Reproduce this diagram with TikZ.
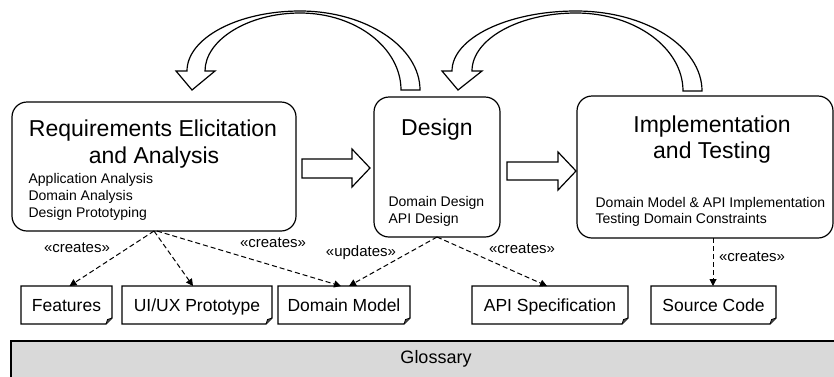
\documentclass[tikz,border=0pt]{standalone}
\usepackage{fontspec}
\setmainfont{Liberation Sans}
\usetikzlibrary{arrows.meta,calc}

\tikzset{
  stage/.style={draw, rounded corners=15pt, inner sep=0pt, outer sep=0pt},
  titletext/.style={font=\fontsize{23}{27}\selectfont, anchor=base, inner sep=0pt},
  subtext/.style={font=\fontsize{14}{17}\selectfont, anchor=base west, inner sep=0pt},
  reltext/.style={font=\fontsize{15}{18}\selectfont, anchor=base, inner sep=0pt},
  arttext/.style={font=\fontsize{17.5}{20}\selectfont, anchor=base, inner sep=0pt},
  artbox/.style={inner sep=0pt, outer sep=0pt},
  blockarrow/.style={draw, line width=1.2pt, fill=white, line join=miter},
  dep/.style={line width=1pt, dash pattern=on 5pt off 3pt,
              -{Triangle[length=7pt,width=7pt]}},
}

% note-shaped artefact box with folded lower right corner
\newcommand{\artefact}[6]{%
  \node[artbox, minimum width=#4-#2, minimum height=#5-#3]
    (#1) at ({(#2+#4)/2},{(#3+#5)/2}) {};
  \draw[line width=1.2pt] (#1.north west) -- (#1.north east)
    -- ($(#1.south east)+(0,-6)$) -- ($(#1.south east)+(-6,0)$)
    -- (#1.south west) -- cycle;
  \draw[line width=0.8pt, fill=black!70] ($(#1.south east)+(0,-6)$)
    -- ($(#1.south east)+(-4.5,-4.5)$) -- ($(#1.south east)+(-6,0)$);
  \node[arttext] (#1-label) at ({(#2+#4)/2},311) {#6};
}

\begin{document}
\begin{tikzpicture}[x=1pt, y=-1pt, line width=1.2pt]
\useasboundingbox (0,0) rectangle (834,376);

% glossary band along the bottom
\draw[fill=black!15, line width=1.2pt] (11,341) -- (840,341) -- (840,382) -- (11,382) -- cycle;
\node[font=\fontsize{18}{21}\selectfont, anchor=base, inner sep=0pt] (gloss) at (436,363.5) {Glossary};

% process stages
\node[stage, minimum width=284pt, minimum height=129pt] (req) at (154,166.5) {};
\node[stage, minimum width=126pt, minimum height=140pt] (des) at (437,167) {};
\node[stage, minimum width=256pt, minimum height=142pt] (impl) at (705,167) {};

\node[titletext] (req-t1) at (153,136) {Requirements Elicitation};
\node[titletext] (req-t2) at (154,163) {and Analysis};
\node[subtext] (req-s1) at (28,183) {Application Analysis};
\node[subtext] (req-s2) at (28,200) {Domain Analysis};
\node[subtext] (req-s3) at (28,217) {Design Prototyping};

\node[titletext] (des-t1) at (437,135) {Design};
\node[subtext] (des-s1) at (388,206) {Domain Design};
\node[subtext] (des-s2) at (388,223) {API Design};

\node[titletext] (impl-t1) at (712,132) {Implementation};
\node[titletext] (impl-t2) at (712,158) {and Testing};
\node[subtext] (impl-s1) at (595,207) {Domain Model \& API Implementation};
\node[subtext] (impl-s2) at (595,223) {Testing Domain Constraints};

% forward block arrows between stages
\draw[blockarrow] (302,159) -- (352,159) -- (352,149) -- (370,168)
  -- (352,187) -- (352,178) -- (302,178) -- cycle;
\draw[blockarrow] (507,162) -- (558,162) -- (558,152) -- (576,171)
  -- (558,190) -- (558,180) -- (507,180) -- cycle;

% feedback arcs
\draw[blockarrow] (420,90) .. controls (420,47) and (366,11) .. (300,11)
  .. controls (238,11) and (187,38) .. (187,71) -- (176,71) -- (192,90)
  -- (215,71) -- (205,71) .. controls (205,40) and (248,13) .. (300,13)
  .. controls (356,13) and (401,48) .. (401,90) -- cycle;
\draw[blockarrow] (702,91) .. controls (702,47) and (646,11) .. (576,11)
  .. controls (508,11) and (452,38) .. (452,71) -- (442,71) -- (458,90)
  -- (482,71) -- (472,71) .. controls (472,39) and (519,13) .. (576,13)
  .. controls (635,13) and (683,48) .. (683,91) -- cycle;

% artefacts
\artefact{feat}{21}{286}{112}{324}{Features}
\artefact{uiux}{122}{286}{272}{324}{UI/UX Prototype}
\artefact{dm}{278}{286}{410}{324}{Domain Model}
\artefact{api}{472}{286}{628}{324}{API Specification}
\artefact{src}{651}{286}{776}{324}{Source Code}

% dependencies
\draw[dep] (req.south) -- ([xshift=3pt]feat.north);
\draw[dep] (req.south) -- ([xshift=-4pt]uiux.north);
\draw[dep] ([xshift=3pt]req.south) -- ([xshift=-3pt]dm.north);
\draw[dep] (des.south) -- ([xshift=5pt]dm.north);
\draw[dep] (des.south) -- ([xshift=-3pt]api.north);
\draw[dep] ([xshift=8pt]impl.south) -- ([xshift=-0.5pt]src.north);

\node[reltext] (l1) at (77,252) {«creates»};
\node[reltext] (l2) at (273,247) {«creates»};
\node[reltext] (l3) at (361,256) {«updates»};
\node[reltext] (l4) at (522,253) {«creates»};
\node[reltext] (l5) at (752,261) {«creates»};
\end{tikzpicture}
\end{document}
